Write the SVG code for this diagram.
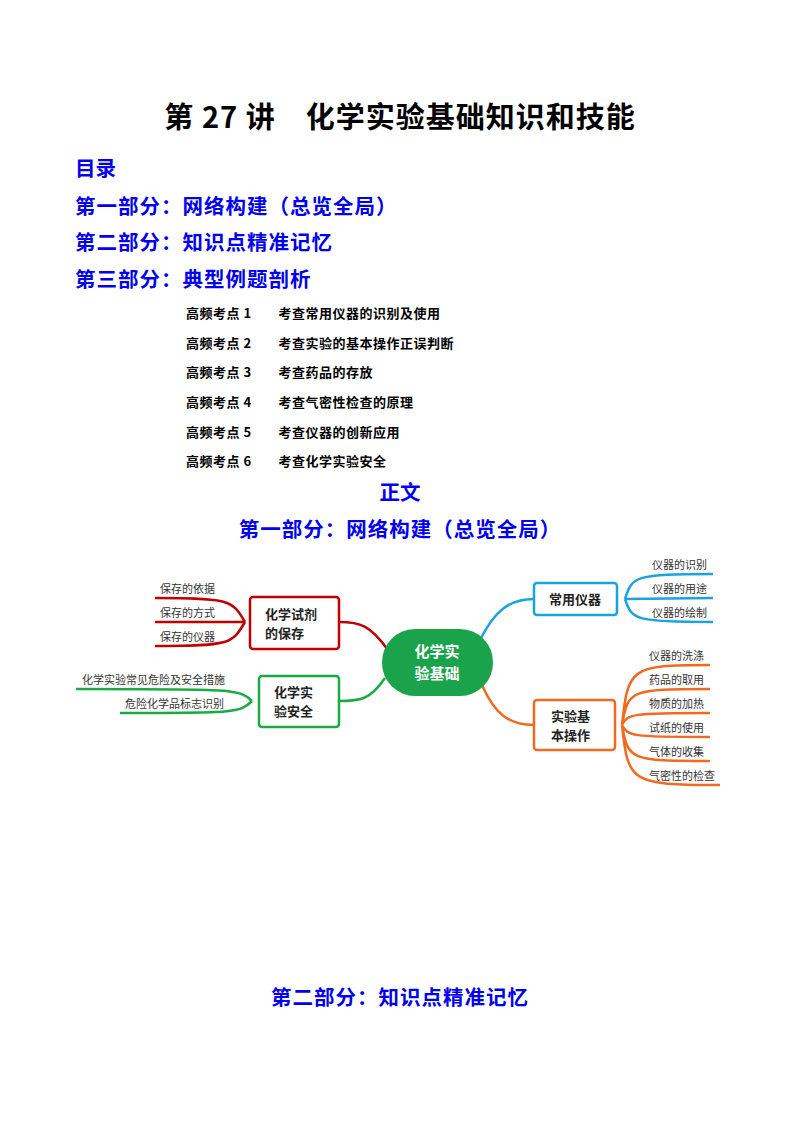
<svg xmlns="http://www.w3.org/2000/svg" width="800" height="1132" viewBox="0 0 800 1132">
<style>
text{font-family:"Noto Sans CJK SC","Liberation Serif",serif;}
.t{font-size:29px;font-weight:bold;fill:#000}
.h{font-size:20.5px;font-weight:bold;fill:#0000ee}
.s{font-size:13px;font-weight:bold;fill:#000}
.leaf{font-size:11px;fill:#333}
.box{fill:#fff;stroke-width:2.5}
.bt{font-size:13px;font-weight:bold;fill:#222}
.ln{fill:none;stroke-width:2.5}
</style>
<rect width="800" height="1132" fill="#fff"/>
<text class="t" x="400" y="128" text-anchor="middle" letter-spacing="1">第 27 讲　化学实验基础知识和技能</text>
<text class="h" x="75" y="176">目录</text>
<text class="h" x="75" y="214" letter-spacing="1">第一部分：网络构建（总览全局）</text>
<text class="h" x="75" y="250" letter-spacing="1">第二部分：知识点精准记忆</text>
<text class="h" x="75" y="287" letter-spacing="1">第三部分：典型例题剖析</text>
<g>
<text class="s" x="186" y="318" letter-spacing="0.5">高频考点 1　　考查常用仪器的识别及使用</text>
<text class="s" x="186" y="348" letter-spacing="0.5">高频考点 2　　考查实验的基本操作正误判断</text>
<text class="s" x="186" y="377" letter-spacing="0.5">高频考点 3　　考查药品的存放</text>
<text class="s" x="186" y="407" letter-spacing="0.5">高频考点 4　　考查气密性检查的原理</text>
<text class="s" x="186" y="437" letter-spacing="0.5">高频考点 5　　考查仪器的创新应用</text>
<text class="s" x="186" y="466" letter-spacing="0.5">高频考点 6　　考查化学实验安全</text>
</g>
<text class="h" x="400" y="500" text-anchor="middle">正文</text>
<text class="h" x="400" y="537" text-anchor="middle" letter-spacing="1">第一部分：网络构建（总览全局）</text>
<g id="connectors">
<path class="ln" stroke="#c00000" d="M388 650 C370 625 360 622 339 622 M245 622 C232 600 230 598 155 598 M245 622 L155 622 M245 622 C232 644 230 646 155 646"/>
<path class="ln" stroke="#1aaa44" d="M385 678 C370 700 360 701 339 701 M252 701 C240 689 235 689 76 689 M252 701 C240 713 235 713 120 713"/>
<path class="ln" stroke="#1aa3e0" d="M480 640 C495 610 510 599 534 599 M625 599 C632 576 635 574 713 574 M625 599 L713 598 M625 599 C632 620 635 622 713 622"/>
<path class="ln" stroke="#f06a20" d="M482 685 C495 715 510 725 534 725 M622 725 C628 668 630 665 710 665 M622 725 C628 690 630 689 710 689 M622 725 C628 714 630 713 710 713 M622 725 C628 736 630 737 710 737 M622 725 C628 760 630 761 710 761 M622 725 C628 782 630 785 720 785"/>
</g>
<g id="center"><rect x="382" y="629" width="111" height="67" rx="33" fill="#1aa34a"/>
<text x="437" y="657" text-anchor="middle" font-size="15" font-weight="bold" fill="#fff">化学实</text>
<text x="437" y="679" text-anchor="middle" font-size="15" font-weight="bold" fill="#fff">验基础</text></g>
<g id="storage"><rect class="box" x="250" y="597" width="89" height="52" rx="3" stroke="#c00000"/>
<text class="bt" x="265" y="619">化学试剂</text><text class="bt" x="265" y="638">的保存</text>
<text class="leaf" x="160" y="593">保存的依据</text><text class="leaf" x="160" y="617">保存的方式</text><text class="leaf" x="160" y="641">保存的仪器</text></g>
<g id="safety"><rect class="box" x="259" y="676" width="80" height="51" rx="3" stroke="#1aaa44"/>
<text class="bt" x="274" y="697">化学实</text><text class="bt" x="274" y="716">验安全</text>
<text class="leaf" x="82" y="684">化学实验常见危险及安全措施</text><text class="leaf" x="125" y="708">危险化学品标志识别</text></g>
<g id="instruments"><rect class="box" x="534" y="583" width="83" height="32" rx="3" stroke="#1aa3e0"/>
<text class="bt" x="575" y="604" text-anchor="middle">常用仪器</text>
<text class="leaf" x="652" y="569">仪器的识别</text><text class="leaf" x="652" y="593">仪器的用途</text><text class="leaf" x="652" y="617">仪器的绘制</text></g>
<g id="operations"><rect class="box" x="534" y="700" width="81" height="50" rx="3" stroke="#f06a20"/>
<text class="bt" x="551" y="721">实验基</text><text class="bt" x="551" y="740">本操作</text>
<text class="leaf" x="649" y="660">仪器的洗涤</text><text class="leaf" x="649" y="684">药品的取用</text><text class="leaf" x="649" y="708">物质的加热</text><text class="leaf" x="649" y="732">试纸的使用</text><text class="leaf" x="649" y="756">气体的收集</text><text class="leaf" x="649" y="780">气密性的检查</text></g>
<text class="h" x="400" y="1005" text-anchor="middle" letter-spacing="1">第二部分：知识点精准记忆</text>
</svg>
